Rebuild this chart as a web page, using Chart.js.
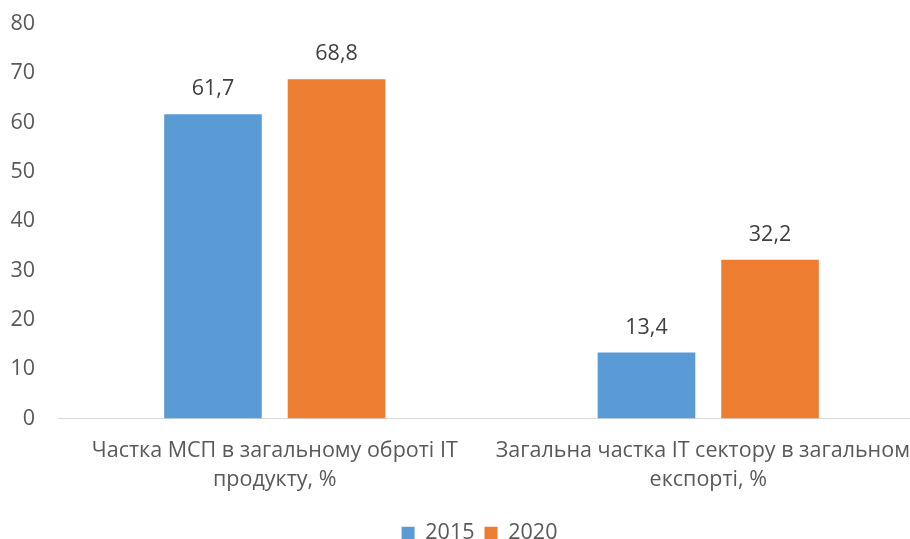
<!DOCTYPE html>
<html>
<head>
<meta charset="utf-8">
<script src="https://cdn.jsdelivr.net/npm/chart.js@4/dist/chart.umd.min.js"></script>
<style>
html,body{margin:0;padding:0;overflow:hidden;background:#fff;width:910px;height:539px;}
#wrap{position:absolute;left:0;top:0;width:960px;height:539px;}
</style>
</head>
<body>
<div id="wrap"><canvas id="c" width="960" height="539"></canvas></div>
<script>
const categories = [
  ['Частка МСП в загальному оброті IT', 'продукту, %'],
  ['Загальна частка IT сектору в загальному', 'експорті, %']
];
const seriesNames = ['2015', '2020'];
const values2015 = [61.7, 13.4];
const values2020 = [68.8, 32.2];
const yTicks = [0, 10, 20, 30, 40, 50, 60, 70, 80];

const FONT = "'Open Sans', 'Noto Sans', sans-serif";
const FS = 21.5;

const valueLabels = {
  id: 'valueLabels',
  afterDatasetsDraw(chart) {
    const ctx = chart.ctx;
    ctx.save();
    ctx.font = FS + "px " + FONT;
    ctx.fillStyle = '#404040';
    ctx.textAlign = 'center';
    ctx.textBaseline = 'middle';
    chart.data.datasets.forEach((ds, di) => {
      const meta = chart.getDatasetMeta(di);
      meta.data.forEach((bar, i) => {
        const txt = String(ds.data[i]).replace('.', ',');
        ctx.fillText(txt, bar.x, bar.y - 25);
      });
    });
    ctx.restore();
  }
};

const legendShift = {
  id: 'legendShift',
  afterLayout(chart) {
    if (chart.legend) { chart.legend.left += 17; chart.legend.right += 17; }
  }
};

new Chart(document.getElementById('c'), {
  type: 'bar',
  data: {
    labels: categories,
    datasets: [
      { label: seriesNames[0], data: values2015, backgroundColor: '#5B9BD5' },
      { label: seriesNames[1], data: values2020, backgroundColor: '#ED7D31' }
    ]
  },
  options: {
    responsive: false,
    animation: false,
    devicePixelRatio: 1,
    layout: { padding: { left: 0, right: 35, top: 24, bottom: -15 } },
    datasets: { bar: { categoryPercentage: 0.57, barPercentage: 0.79 } },
    plugins: {
      legend: {
        position: 'bottom',
        labels: {
          font: { size: FS, family: FONT },
          color: '#595959',
          boxWidth: 13,
          boxHeight: 13,
          padding: 10
        }
      },
      tooltip: { enabled: false }
    },
    scales: {
      x: {
        grid: { display: false, drawTicks: false },
        border: { display: true, color: '#D9D9D9', width: 1 },
        ticks: {
          font: { size: FS, family: FONT, lineHeight: 1.35 },
          color: '#595959',
          padding: 18,
          maxRotation: 0,
          autoSkip: false
        },
        afterFit(s) { s.height = 94; }
      },
      y: {
        min: 0,
        max: 80,
        afterBuildTicks(s) { s.ticks = yTicks.map(v => ({ value: v })); },
        grid: { display: false, drawTicks: false },
        border: { display: false },
        ticks: {
          font: { size: FS, family: FONT },
          color: '#595959',
          padding: 23
        },
        afterFit(s) { s.width = 58; s.paddingTop = 0; }
      }
    }
  },
  plugins: [valueLabels, legendShift]
});
</script>
</body>
</html>
